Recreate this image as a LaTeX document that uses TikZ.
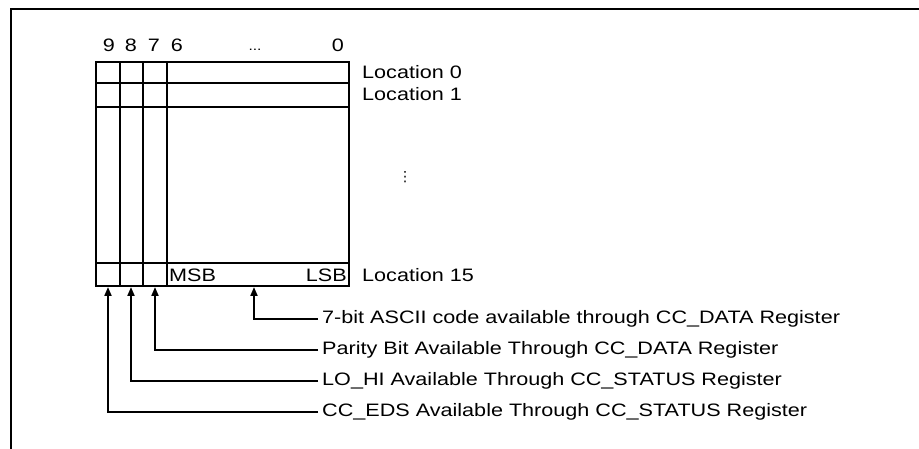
\documentclass[tikz,border=0pt]{standalone}
\usepackage{fontspec}
\setmainfont{Liberation Sans}[FakeStretch=1.2]
\newfontfamily\symfont{DejaVu Sans}
\usetikzlibrary{arrows.meta, positioning}

\begin{document}
\begin{tikzpicture}[x=1pt, y=-1pt,
  frame/.style={line width=2.2pt},
  cell/.style={line width=2.8pt},
  bitnum/.style={font=\fontsize{18}{21}\selectfont, inner sep=0pt},
  lab/.style={font=\fontsize{18}{21}\selectfont, inner xsep=4pt, inner ysep=0pt, anchor=west},
  arr/.style={-{Triangle[length=9pt, width=7pt]}, line width=2pt}
]
  \useasboundingbox (0,0) rectangle (919,449);
  \draw[frame] (11,449) -- (11,9) -- (919,9);

  % buffer of 16 locations
  \draw[cell] (96,62) rectangle (349,286);
  \foreach \x in {120,143,167} \draw[cell] (\x,62) -- (\x,286);
  \foreach \y in {83,107,263} \draw[cell] (96,\y) -- (349,\y);

  % bit numbers
  \node[bitnum] (n9) at (109,45) {9};
  \node[bitnum] (n8) at (131,45) {8};
  \node[bitnum] (n7) at (154,45) {7};
  \node[bitnum] (n6) at (177,45) {6};
  \node[bitnum, font=\fontsize{13}{15}\selectfont, anchor=base] (ndots) at (255,51) {...};
  \node[bitnum] (n0) at (338,45) {0};

  \node[lab] (loc0) at (358,72) {Location 0};
  \node[lab] (loc1) at (358,94) {Location 1};
  \node[font=\symfont\fontsize{14}{16}\selectfont, inner sep=0pt] (vdots) at (405,177) {⋮};
  \node[lab] (loc15) at (358,275) {Location 15};
  \node[lab, inner xsep=2pt] (msb) at (167,275) {MSB};
  \node[lab, inner xsep=2pt, anchor=east] (lsb) at (349,275) {LSB};

  % bit fields
  \coordinate (bAscii) at (254,287);
  \coordinate (bParity) at (155,287);
  \coordinate (bLoHi) at (131,287);
  \coordinate (bEds) at (108,287);
  \node[lab] (tAscii) at (318,319) {7-bit ASCII code available through CC\_DATA Register};
  \node[lab] (tParity) at (318,350) {Parity Bit Available Through CC\_DATA Register};
  \node[lab] (tLoHi) at (318,381) {LO\_HI Available Through CC\_STATUS Register};
  \node[lab] (tEds) at (318,412) {CC\_EDS Available Through CC\_STATUS Register};

  \foreach \t/\b in {tAscii/bAscii, tParity/bParity, tLoHi/bLoHi, tEds/bEds}
    \draw[arr] (\t.west) -| (\b);
\end{tikzpicture}
\end{document}
